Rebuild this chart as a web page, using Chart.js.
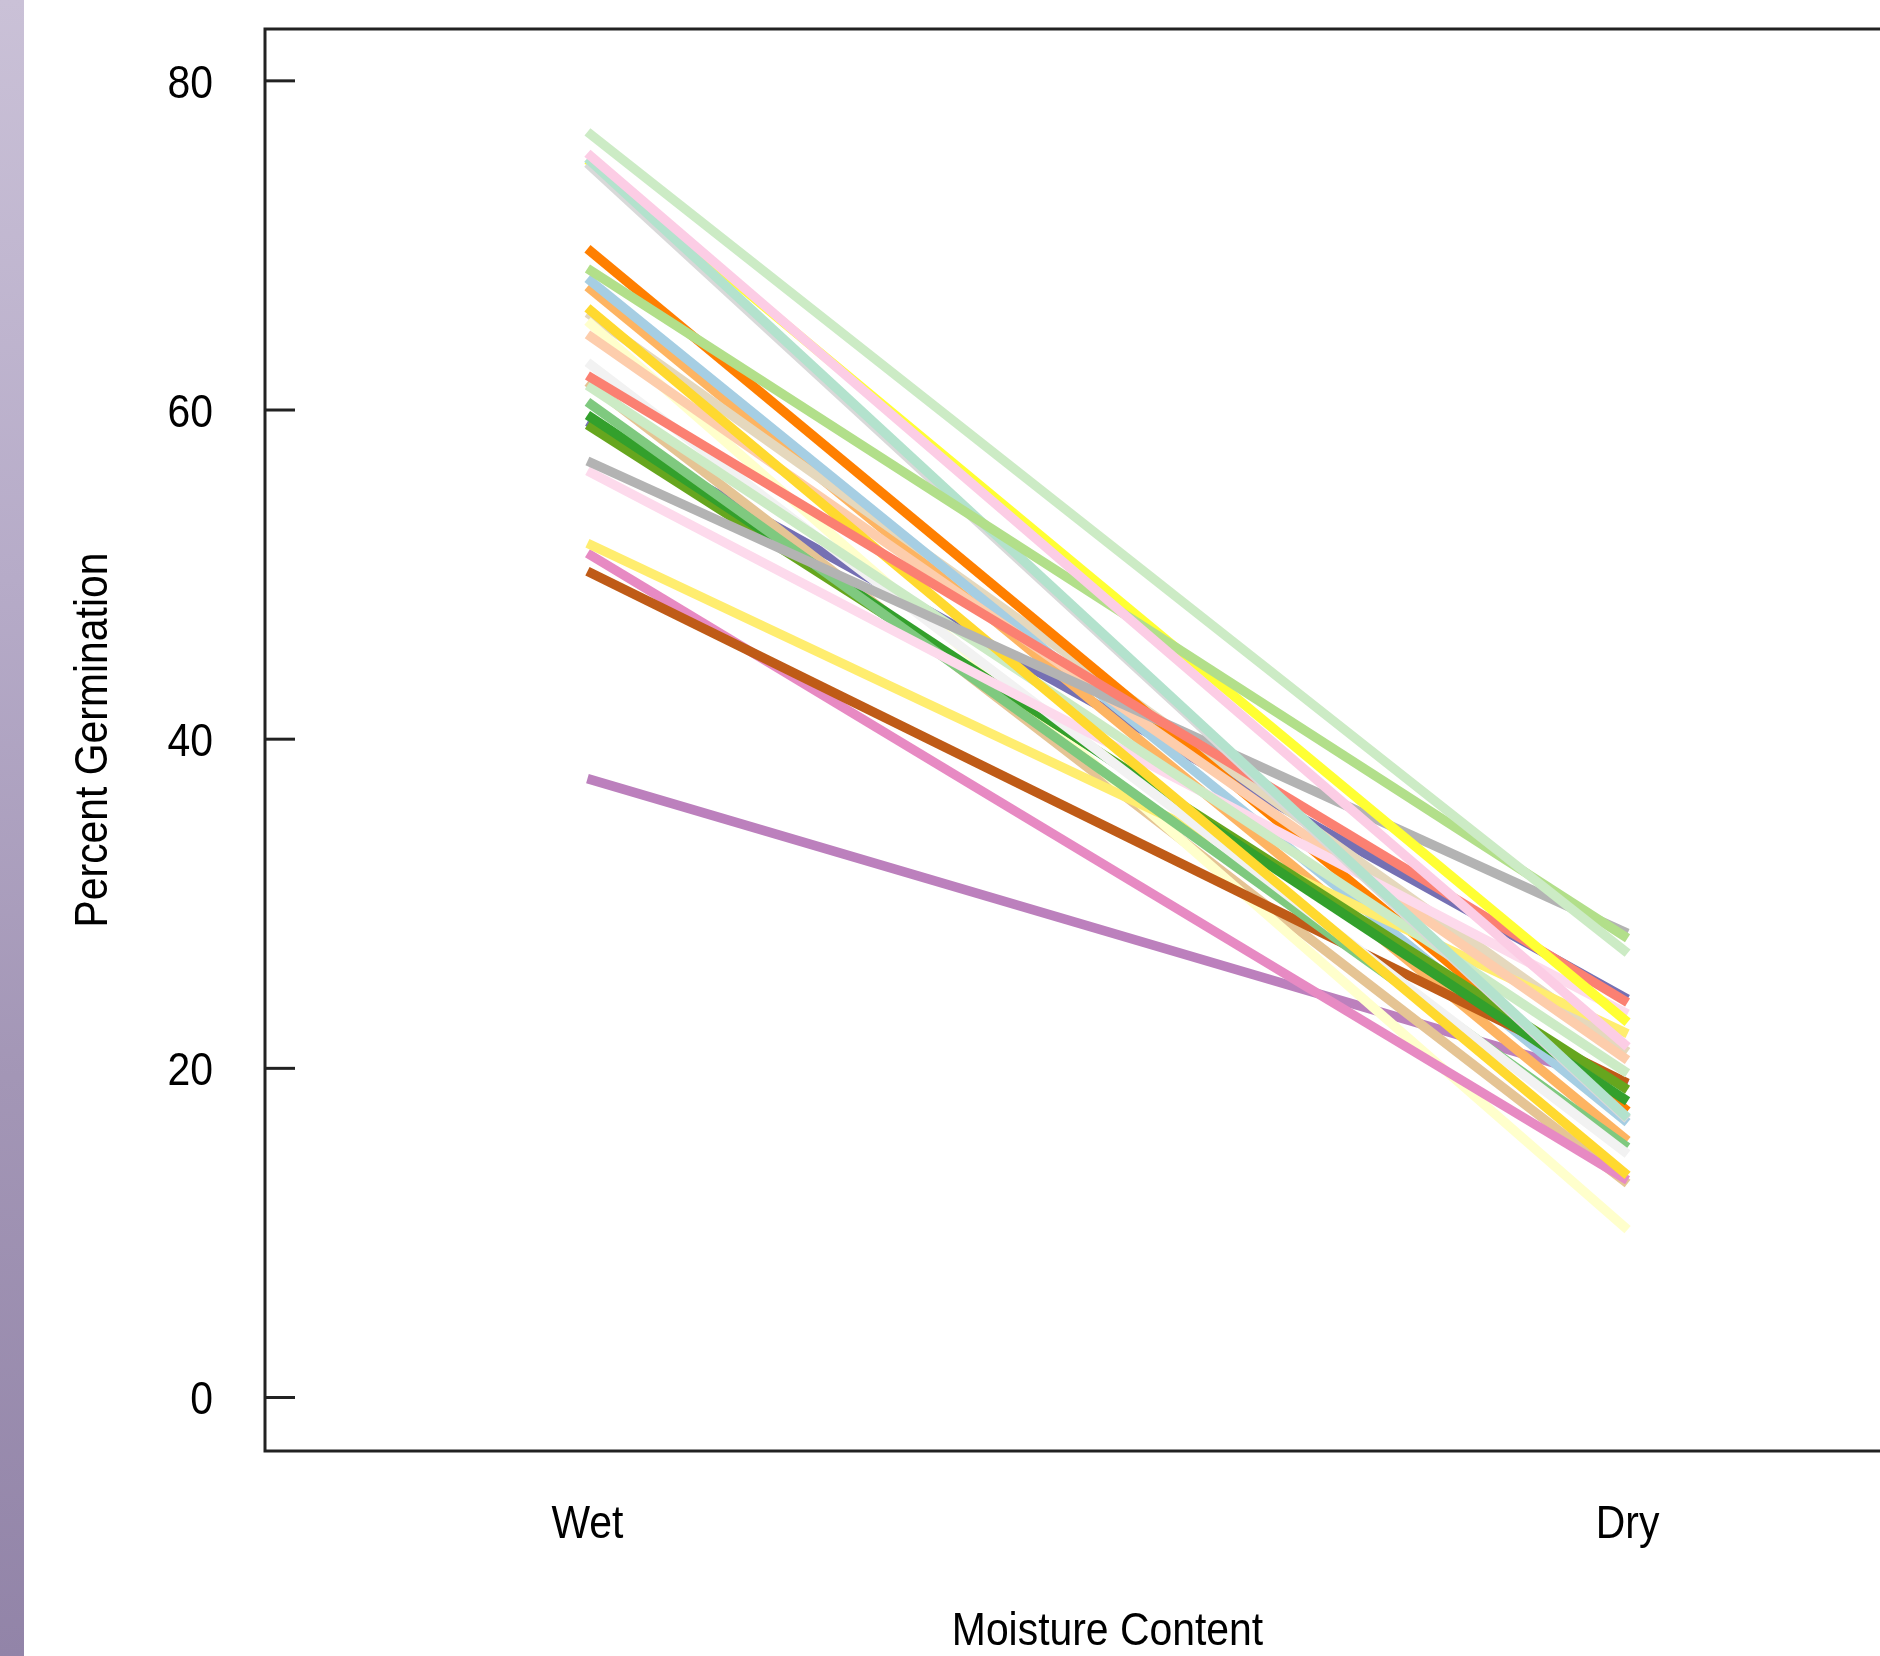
<!DOCTYPE html>
<html><head><meta charset="utf-8">
<script src="https://cdn.jsdelivr.net/npm/chart.js@4.4.1/dist/chart.umd.min.js"></script>
<style>
html,body{margin:0;padding:0;background:#fff;overflow:hidden;width:1880px;height:1656px;}
#wrap{position:absolute;left:0;top:0;width:1880px;height:1656px;overflow:hidden;}
#strip{position:absolute;left:0;top:0;width:24px;height:1656px;background:linear-gradient(178deg,#cac1d7 0%,#b6abc8 35%,#a396b6 65%,#9284a8 100%);}
</style></head><body>
<div id="wrap"><canvas id="c" width="1960" height="1656"></canvas></div>
<div id="strip"></div>
<script>
const categories = ['Wet', 'Dry'];
const yTicks = [0, 20, 40, 60, 80];
const xTitle = 'Moisture Content';
const yTitle = 'Percent Germination';
// one entry per line, listed from top-most drawn to bottom-most
const wetValues = [76.9, 75.6, 68.6, 75.3, 75.0, 75.2, 62.1, 56.9, 66.2, 61.5, 56.3, 64.6, 62.9, 60.5, 59.7, 59.1, 51.9, 50.2, 51.3, 65.4, 69.8, 68.0, 65.9, 67.5, 61.7, 59.3, 37.6];
const dryValues = [27.0, 21.3, 27.9, 17.0, 16.9, 22.8, 24.0, 28.2, 13.5, 19.7, 23.3, 20.5, 14.8, 15.2, 18.0, 18.7, 22.1, 19.1, 13.2, 10.2, 17.4, 16.7, 21.0, 15.6, 13.0, 24.2, 19.0];
const lineColors = ['#ccebc5', '#fccde5', '#b2df8a', '#b3e2cd', '#d9d9d9', '#ffff33', '#fb8072', '#b3b3b3', '#ffd92f', '#ccebc5', '#fddaec', '#fdcdac', '#f2f2f2', '#7fc97f', '#33a02c', '#66a61e', '#ffed6f', '#bf5b17', '#e78ac3', '#ffffcc', '#ff7f00', '#a6cee3', '#e5d8bd', '#fdb462', '#e5c494', '#7570b3', '#bc80bd'];

const FONT = '"Liberation Sans", Arial, sans-serif';
const CONDENSE = 0.87;

const datasets = wetValues.map((w, i) => ({
  data: [{x: 1, y: w}, {x: 2, y: dryValues[i]}],
  borderColor: lineColors[i],
  borderWidth: 9.5,
  borderCapStyle: 'butt',
  pointRadius: 0,
  tension: 0,
  fill: false
}));

// the reference uses a narrow sans face: condense every text the chart draws
const condensePlugin = {
  id: 'condense',
  beforeDraw(chart) {
    const ctx = chart.ctx;
    if (ctx.__condensed) return;
    const orig = ctx.fillText;
    ctx.fillText = function (text, x, y, maxWidth) {
      const w = this.measureText(text).width * CONDENSE;
      const mw = (maxWidth === undefined || maxWidth === null) ? w : Math.min(maxWidth, w);
      return orig.call(this, text, x, y, mw);
    };
    ctx.__condensed = true;
  }
};

const framePlugin = {
  id: 'frame',
  afterDraw(chart) {
    const {ctx, chartArea: a, scales: {y}} = chart;
    ctx.save();
    ctx.strokeStyle = '#222';
    ctx.lineWidth = 3;
    ctx.strokeRect(a.left, a.top, a.right - a.left, a.bottom - a.top);
    y.ticks.forEach(t => {
      const py = y.getPixelForValue(t.value);
      ctx.beginPath();
      ctx.moveTo(a.left, py);
      ctx.lineTo(a.left + 30, py);
      ctx.stroke();
    });
    ctx.restore();
  }
};

new Chart(document.getElementById('c'), {
  type: 'line',
  data: {datasets},
  plugins: [condensePlugin, framePlugin],
  options: {
    responsive: false,
    animation: false,
    devicePixelRatio: 1,
    layout: {padding: {left: 0, top: 29, right: 10, bottom: 0}},
    plugins: {legend: {display: false}, tooltip: {enabled: false}, title: {display: false}},
    scales: {
      x: {
        type: 'linear',
        min: 0.69,
        max: 2.31,
        afterFit(s) { s.height = 205; s.paddingLeft = 0; s.paddingRight = 0; },
        afterBuildTicks(s) { s.ticks = categories.map((c, i) => ({value: i + 1})); },
        grid: {display: false, drawTicks: false},
        border: {display: false},
        ticks: {
          callback: (v) => categories[v - 1] || '',
          color: '#000',
          font: {family: FONT, size: 47},
          padding: 46,
          maxRotation: 0,
          autoSkip: false
        },
        title: {display: true, text: xTitle, color: '#000', font: {family: FONT, size: 47}, padding: {top: 0, bottom: -4}}
      },
      y: {
        type: 'linear',
        min: -3.25,
        max: 83.15,
        afterFit(s) { s.width = 265; s.paddingTop = 0; s.paddingBottom = 0; },
        afterBuildTicks(s) { s.ticks = yTicks.map(v => ({value: v})); },
        grid: {display: false, drawTicks: false},
        border: {display: false},
        ticks: {
          color: '#000',
          font: {family: FONT, size: 47},
          padding: 52,
          labelOffset: 4
        },
        title: {display: true, text: yTitle, color: '#000', font: {family: FONT, size: 47}, padding: {top: 66, bottom: 0}}
      }
    }
  }
});
</script>
</body></html>
